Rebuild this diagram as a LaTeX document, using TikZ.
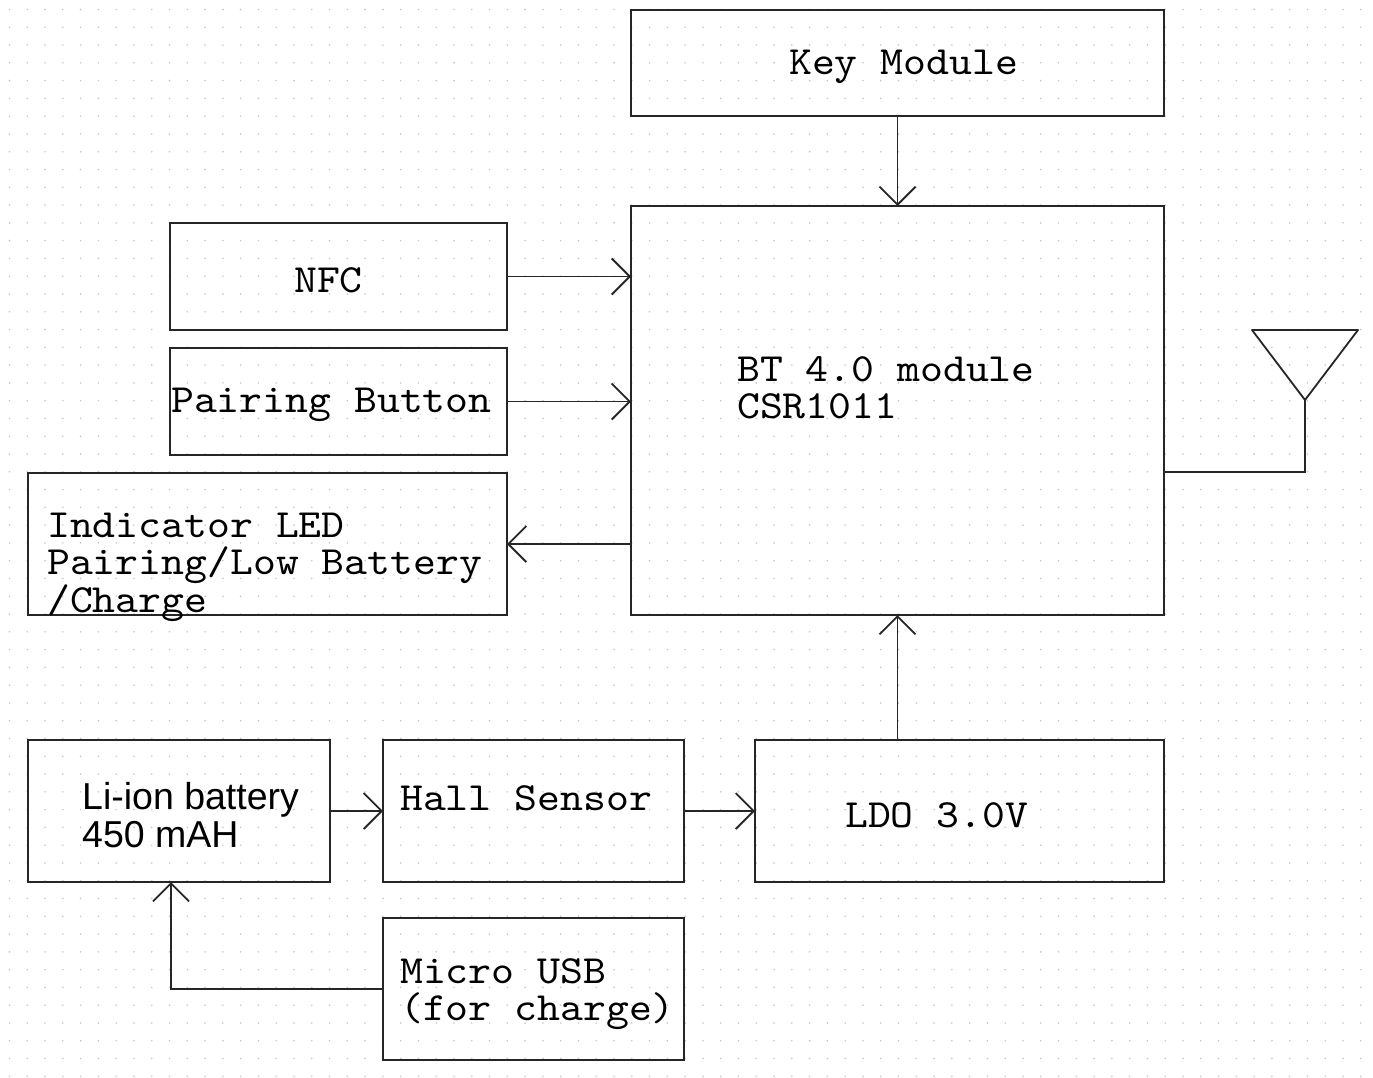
\documentclass[tikz,border=0pt]{standalone}
\usepackage{fontspec}
\newfontfamily\blockfont{lmmono10-regular.otf}[FakeStretch=1.09]
\newfontfamily\battfont{Liberation Sans}
\usetikzlibrary{
    arrows.meta,
    calc,
}
\tikzset{
    % Block styles
    block/.style={rectangle, draw=black!85, line width=2pt, inner sep=0pt, outer sep=0pt},
    block text/.style={anchor=west, inner sep=0pt, align=left, yshift=-3pt,
                       font=\blockfont\fontsize{40}{37.5}\selectfont},
    batt text/.style={anchor=west, inner sep=0pt, align=left,
                      font=\battfont\fontsize{37.5}{38}\selectfont},
    % Arrow styles
    wire/.style={draw=black!85, line width=1.8pt},
    arrow/.style={wire, -{Straight Barb[length=18pt, width=36pt, line width=1.8pt]}},
    % Background grid
    grid dot/.style={fill=black!22},
}

\begin{document}
\begin{tikzpicture}[x=1pt, y=-1pt]
    \useasboundingbox (0, 0) rectangle (1373, 1077);

    % Dotted grid
    \foreach \i in {0,...,76} {
        \foreach \j in {0,...,60} {
            \fill[grid dot] (9.5+17.78*\i, 9.5+17.78*\j) circle (0.9pt);
        }
    }

    % Blocks
    \node[block, minimum width=533pt, minimum height=106pt] (key) at (897.5, 63) {};
    \node[block, minimum width=533pt, minimum height=409pt] (bt) at (897.5, 410.5) {};
    \node[block, minimum width=337pt, minimum height=107pt] (nfc) at (338.5, 276.5) {};
    \node[block, minimum width=337pt, minimum height=107pt] (pair) at (338.5, 401.5) {};
    \node[block, minimum width=479pt, minimum height=142pt] (led) at (267.5, 544) {};
    \node[block, minimum width=302pt, minimum height=142pt] (batt) at (179, 811) {};
    \node[block, minimum width=301pt, minimum height=142pt] (hall) at (533.5, 811) {};
    \node[block, minimum width=409pt, minimum height=142pt] (ldo) at (959.5, 811) {};
    \node[block, minimum width=301pt, minimum height=142pt] (usb) at (533.5, 989) {};

    % Block texts
    \node[block text] (key text) at (789, 64) {Key Module};
    \node[block text] (bt text) at (737, 385) {BT 4.0 module\\CSR1011};
    \node[block text] (nfc text) at (294, 277) {NFC};
    \node[block text] (pair text) at (171, 402) {Pairing Button};
    \node[block text] (led text) at (47, 564) {Indicator LED\\Pairing/Low Battery\\/Charge};
    \node[batt text] (batt text) at (82, 815) {Li-ion battery\\450 mAH};
    \node[block text] (hall text) at (400, 795) {Hall Sensor};
    \node[block text] (ldo text) at (845, 812) {LDO 3.0V};
    \node[block text] (usb text) at (400, 991) {Micro USB\\(for charge)};

    % Antenna
    \coordinate (ant) at (1305, 400);
    \coordinate (ant foot) at (1305, 472);
    \draw[wire, line join=round] (1252, 330) -- (1358, 330) -- (ant) -- cycle;

    % Arrows
    \draw[arrow] (key.south) -- (bt.north);
    \draw[arrow] (nfc.east) -- (nfc.east -| bt.west);
    \draw[arrow] (pair.east) -- (pair.east -| bt.west);
    \draw[arrow] (led.east -| bt.west) -- (led.east);
    \draw[arrow] (bt.south |- ldo.north) -- (bt.south);
    \draw[arrow] (batt.east) -- (hall.west);
    \draw[arrow] (hall.east) -- (ldo.west);
    \draw[arrow] (usb.west) -| ([xshift=-8pt]batt.south);
    \draw[wire] (ant) -- (ant foot) -- (ant foot -| bt.east);
\end{tikzpicture}
\end{document}
